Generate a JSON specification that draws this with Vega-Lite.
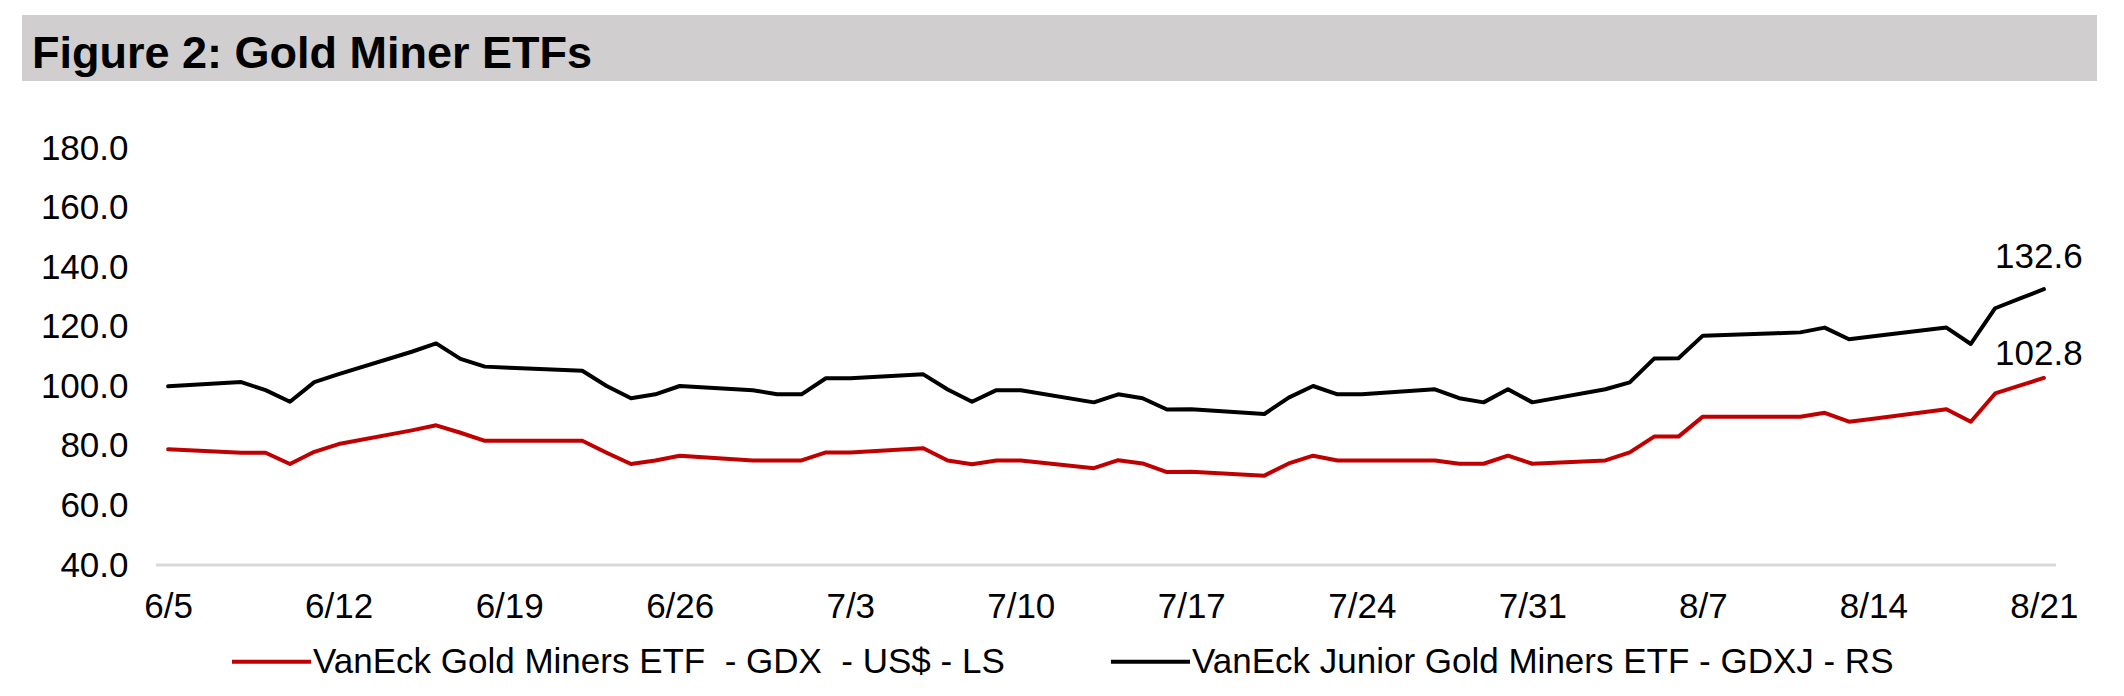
{
  "$schema": "https://vega.github.io/schema/vega-lite/v6.json",
  "description": "Figure 2: Gold Miner ETFs - GDX (red) and GDXJ (black), 6/5 to 8/21",
  "background": "white",
  "padding": {"left": 22, "top": 15, "right": 0, "bottom": 0},
  "spacing": 50,
  "config": {
    "font": "Liberation Sans",
    "view": {"stroke": null}
  },
  "datasets": {
    "prices": [
      {"date": "2026-06-05", "series": "GDX", "value": 78.9},
      {"date": "2026-06-08", "series": "GDX", "value": 77.7},
      {"date": "2026-06-09", "series": "GDX", "value": 77.7},
      {"date": "2026-06-10", "series": "GDX", "value": 73.9},
      {"date": "2026-06-11", "series": "GDX", "value": 78.0},
      {"date": "2026-06-12", "series": "GDX", "value": 80.6},
      {"date": "2026-06-15", "series": "GDX", "value": 85.2},
      {"date": "2026-06-16", "series": "GDX", "value": 86.9},
      {"date": "2026-06-17", "series": "GDX", "value": 84.4},
      {"date": "2026-06-18", "series": "GDX", "value": 81.7},
      {"date": "2026-06-19", "series": "GDX", "value": 81.7},
      {"date": "2026-06-22", "series": "GDX", "value": 81.7},
      {"date": "2026-06-23", "series": "GDX", "value": 77.7},
      {"date": "2026-06-24", "series": "GDX", "value": 73.9},
      {"date": "2026-06-25", "series": "GDX", "value": 75.1},
      {"date": "2026-06-26", "series": "GDX", "value": 76.7},
      {"date": "2026-06-29", "series": "GDX", "value": 75.1},
      {"date": "2026-06-30", "series": "GDX", "value": 75.1},
      {"date": "2026-07-01", "series": "GDX", "value": 75.1},
      {"date": "2026-07-02", "series": "GDX", "value": 77.8},
      {"date": "2026-07-03", "series": "GDX", "value": 77.8},
      {"date": "2026-07-06", "series": "GDX", "value": 79.2},
      {"date": "2026-07-07", "series": "GDX", "value": 75.1},
      {"date": "2026-07-08", "series": "GDX", "value": 73.8},
      {"date": "2026-07-09", "series": "GDX", "value": 75.1},
      {"date": "2026-07-10", "series": "GDX", "value": 75.1},
      {"date": "2026-07-13", "series": "GDX", "value": 72.5},
      {"date": "2026-07-14", "series": "GDX", "value": 75.2},
      {"date": "2026-07-15", "series": "GDX", "value": 74.1},
      {"date": "2026-07-16", "series": "GDX", "value": 71.2},
      {"date": "2026-07-17", "series": "GDX", "value": 71.3},
      {"date": "2026-07-20", "series": "GDX", "value": 70.0},
      {"date": "2026-07-21", "series": "GDX", "value": 74.1},
      {"date": "2026-07-22", "series": "GDX", "value": 76.7},
      {"date": "2026-07-23", "series": "GDX", "value": 75.1},
      {"date": "2026-07-24", "series": "GDX", "value": 75.1},
      {"date": "2026-07-27", "series": "GDX", "value": 75.1},
      {"date": "2026-07-28", "series": "GDX", "value": 74.0},
      {"date": "2026-07-29", "series": "GDX", "value": 74.0},
      {"date": "2026-07-30", "series": "GDX", "value": 76.7},
      {"date": "2026-07-31", "series": "GDX", "value": 74.0},
      {"date": "2026-08-03", "series": "GDX", "value": 75.1},
      {"date": "2026-08-04", "series": "GDX", "value": 77.8},
      {"date": "2026-08-05", "series": "GDX", "value": 83.1},
      {"date": "2026-08-06", "series": "GDX", "value": 83.1},
      {"date": "2026-08-07", "series": "GDX", "value": 89.8},
      {"date": "2026-08-10", "series": "GDX", "value": 89.8},
      {"date": "2026-08-11", "series": "GDX", "value": 89.8},
      {"date": "2026-08-12", "series": "GDX", "value": 91.1},
      {"date": "2026-08-13", "series": "GDX", "value": 88.1},
      {"date": "2026-08-14", "series": "GDX", "value": 89.1},
      {"date": "2026-08-17", "series": "GDX", "value": 92.3},
      {"date": "2026-08-18", "series": "GDX", "value": 88.1},
      {"date": "2026-08-19", "series": "GDX", "value": 97.6},
      {"date": "2026-08-20", "series": "GDX", "value": 100.2},
      {"date": "2026-08-21", "series": "GDX", "value": 102.8},
      {"date": "2026-06-05", "series": "GDXJ", "value": 100.0},
      {"date": "2026-06-08", "series": "GDXJ", "value": 101.4},
      {"date": "2026-06-09", "series": "GDXJ", "value": 98.7},
      {"date": "2026-06-10", "series": "GDXJ", "value": 94.8},
      {"date": "2026-06-11", "series": "GDXJ", "value": 101.4},
      {"date": "2026-06-12", "series": "GDXJ", "value": 104.1},
      {"date": "2026-06-15", "series": "GDXJ", "value": 111.6},
      {"date": "2026-06-16", "series": "GDXJ", "value": 114.4},
      {"date": "2026-06-17", "series": "GDXJ", "value": 109.2},
      {"date": "2026-06-18", "series": "GDXJ", "value": 106.6},
      {"date": "2026-06-19", "series": "GDXJ", "value": 106.2},
      {"date": "2026-06-22", "series": "GDXJ", "value": 105.2},
      {"date": "2026-06-23", "series": "GDXJ", "value": 100.1},
      {"date": "2026-06-24", "series": "GDXJ", "value": 96.0},
      {"date": "2026-06-25", "series": "GDXJ", "value": 97.3},
      {"date": "2026-06-26", "series": "GDXJ", "value": 100.1},
      {"date": "2026-06-29", "series": "GDXJ", "value": 98.7},
      {"date": "2026-06-30", "series": "GDXJ", "value": 97.3},
      {"date": "2026-07-01", "series": "GDXJ", "value": 97.3},
      {"date": "2026-07-02", "series": "GDXJ", "value": 102.7},
      {"date": "2026-07-03", "series": "GDXJ", "value": 102.7},
      {"date": "2026-07-06", "series": "GDXJ", "value": 104.0},
      {"date": "2026-07-07", "series": "GDXJ", "value": 98.9},
      {"date": "2026-07-08", "series": "GDXJ", "value": 94.8},
      {"date": "2026-07-09", "series": "GDXJ", "value": 98.7},
      {"date": "2026-07-10", "series": "GDXJ", "value": 98.7},
      {"date": "2026-07-13", "series": "GDXJ", "value": 94.6},
      {"date": "2026-07-14", "series": "GDXJ", "value": 97.3},
      {"date": "2026-07-15", "series": "GDXJ", "value": 96.0},
      {"date": "2026-07-16", "series": "GDXJ", "value": 92.2},
      {"date": "2026-07-17", "series": "GDXJ", "value": 92.3},
      {"date": "2026-07-20", "series": "GDXJ", "value": 90.7},
      {"date": "2026-07-21", "series": "GDXJ", "value": 96.2},
      {"date": "2026-07-22", "series": "GDXJ", "value": 100.1},
      {"date": "2026-07-23", "series": "GDXJ", "value": 97.3},
      {"date": "2026-07-24", "series": "GDXJ", "value": 97.3},
      {"date": "2026-07-27", "series": "GDXJ", "value": 99.0},
      {"date": "2026-07-28", "series": "GDXJ", "value": 96.0},
      {"date": "2026-07-29", "series": "GDXJ", "value": 94.6},
      {"date": "2026-07-30", "series": "GDXJ", "value": 99.0},
      {"date": "2026-07-31", "series": "GDXJ", "value": 94.6},
      {"date": "2026-08-03", "series": "GDXJ", "value": 99.0},
      {"date": "2026-08-04", "series": "GDXJ", "value": 101.3},
      {"date": "2026-08-05", "series": "GDXJ", "value": 109.3},
      {"date": "2026-08-06", "series": "GDXJ", "value": 109.4},
      {"date": "2026-08-07", "series": "GDXJ", "value": 117.0},
      {"date": "2026-08-10", "series": "GDXJ", "value": 117.8},
      {"date": "2026-08-11", "series": "GDXJ", "value": 118.1},
      {"date": "2026-08-12", "series": "GDXJ", "value": 119.7},
      {"date": "2026-08-13", "series": "GDXJ", "value": 115.8},
      {"date": "2026-08-14", "series": "GDXJ", "value": 116.8},
      {"date": "2026-08-17", "series": "GDXJ", "value": 119.7},
      {"date": "2026-08-18", "series": "GDXJ", "value": 114.2},
      {"date": "2026-08-19", "series": "GDXJ", "value": 126.2},
      {"date": "2026-08-20", "series": "GDXJ", "value": 129.4},
      {"date": "2026-08-21", "series": "GDXJ", "value": 132.6}
    ]
  },
  "vconcat": [
    {
      "width": 2075,
      "height": 66,
      "view": {"fill": "#d0cecf", "stroke": null},
      "title": {
        "text": "Figure 2: Gold Miner ETFs",
        "anchor": "start",
        "frame": "group",
        "orient": "top",
        "offset": -98,
        "baseline": "alphabetic",
        "dx": 10,
        "font": "Liberation Sans",
        "fontSize": 45,
        "fontWeight": "bold",
        "color": "#000000"
      },
      "data": {"values": []},
      "mark": "point",
      "encoding": {}
    },
    {
      "width": 2075,
      "height": 417,
      "data": {"name": "prices"},
      "encoding": {
        "x": {
          "field": "date",
          "type": "temporal",
          "scale": {
            "type": "utc",
            "domain": [
              {"year": 2026, "month": 5, "date": 30, "utc": true},
              {"year": 2026, "month": 8, "date": 23, "hours": 4, "minutes": 20, "utc": true}
            ]
          },
          "axis": {
            "title": null,
            "values": [
              {"year": 2026, "month": 6, "date": 5, "utc": true},
              {"year": 2026, "month": 6, "date": 12, "utc": true},
              {"year": 2026, "month": 6, "date": 19, "utc": true},
              {"year": 2026, "month": 6, "date": 26, "utc": true},
              {"year": 2026, "month": 7, "date": 3, "utc": true},
              {"year": 2026, "month": 7, "date": 10, "utc": true},
              {"year": 2026, "month": 7, "date": 17, "utc": true},
              {"year": 2026, "month": 7, "date": 24, "utc": true},
              {"year": 2026, "month": 7, "date": 31, "utc": true},
              {"year": 2026, "month": 8, "date": 7, "utc": true},
              {"year": 2026, "month": 8, "date": 14, "utc": true},
              {"year": 2026, "month": 8, "date": 21, "utc": true}
            ],
            "format": "%-m/%-d",
            "grid": false,
            "ticks": false,
            "tickSize": 0,
            "domain": false,
            "labelFont": "Liberation Sans",
            "labelFontSize": 35,
            "labelColor": "#000000",
            "labelPadding": 24,
            "labelOverlap": false,
            "labelFlush": false
          }
        },
        "y": {
          "field": "value",
          "type": "quantitative",
          "scale": {"domain": [40, 180], "nice": false, "zero": false},
          "axis": {
            "title": null,
            "values": [40, 60, 80, 100, 120, 140, 160, 180],
            "format": ".1f",
            "grid": false,
            "ticks": false,
            "tickSize": 0,
            "domain": false,
            "labelFont": "Liberation Sans",
            "labelFontSize": 35,
            "labelColor": "#000000",
            "labelPadding": -106
          }
        }
      },
      "layer": [
        {
          "data": {"values": [{"from": "2026-06-04T12:00:00Z", "to": "2026-08-21T12:00:00Z", "level": 40}]},
          "mark": {"type": "rule", "color": "#d9d9d9", "strokeWidth": 3},
          "encoding": {
            "x": {"field": "from", "type": "temporal"},
            "x2": {"field": "to"},
            "y": {"field": "level", "type": "quantitative"}
          }
        },
        {
          "mark": {"type": "line", "strokeWidth": 4, "strokeJoin": "round", "strokeCap": "round"},
          "encoding": {
            "color": {
              "field": "series",
              "type": "nominal",
              "scale": {"domain": ["GDX", "GDXJ"], "range": ["#c00000", "#000000"]},
              "legend": {
                "title": null,
                "orient": "none",
                "legendX": 208,
                "legendY": 605,
                "direction": "horizontal",
                "padding": 0,
                "symbolType": "stroke",
                "symbolSize": 6241,
                "symbolStrokeWidth": 4,
                "labelFont": "Liberation Sans",
                "labelFontSize": 35,
                "labelColor": "#000000",
                "labelOffset": 0,
                "labelLimit": 1200,
                "columnPadding": 98,
                "labelExpr": "datum.label == 'GDX' ? 'VanEck Gold Miners ETF\u00a0 - GDX\u00a0 - US$ - LS' : 'VanEck Junior Gold Miners ETF - GDXJ - RS'"
              }
            }
          }
        },
        {
          "transform": [
            {"window": [{"op": "rank", "as": "rank"}], "sort": [{"field": "date", "order": "descending"}], "groupby": ["series"]},
            {"filter": "datum.rank == 1 && datum.series == 'GDXJ'"}
          ],
          "mark": {"type": "text", "font": "Liberation Sans", "fontSize": 35, "color": "#000000", "align": "center", "baseline": "alphabetic", "dx": -5, "dy": -21},
          "encoding": {"text": {"field": "value", "type": "quantitative", "format": ".1f"}}
        },
        {
          "transform": [
            {"window": [{"op": "rank", "as": "rank"}], "sort": [{"field": "date", "order": "descending"}], "groupby": ["series"]},
            {"filter": "datum.rank == 1 && datum.series == 'GDX'"}
          ],
          "mark": {"type": "text", "font": "Liberation Sans", "fontSize": 35, "color": "#000000", "align": "center", "baseline": "alphabetic", "dx": -5, "dy": -13},
          "encoding": {"text": {"field": "value", "type": "quantitative", "format": ".1f"}}
        }
      ]
    }
  ]
}
